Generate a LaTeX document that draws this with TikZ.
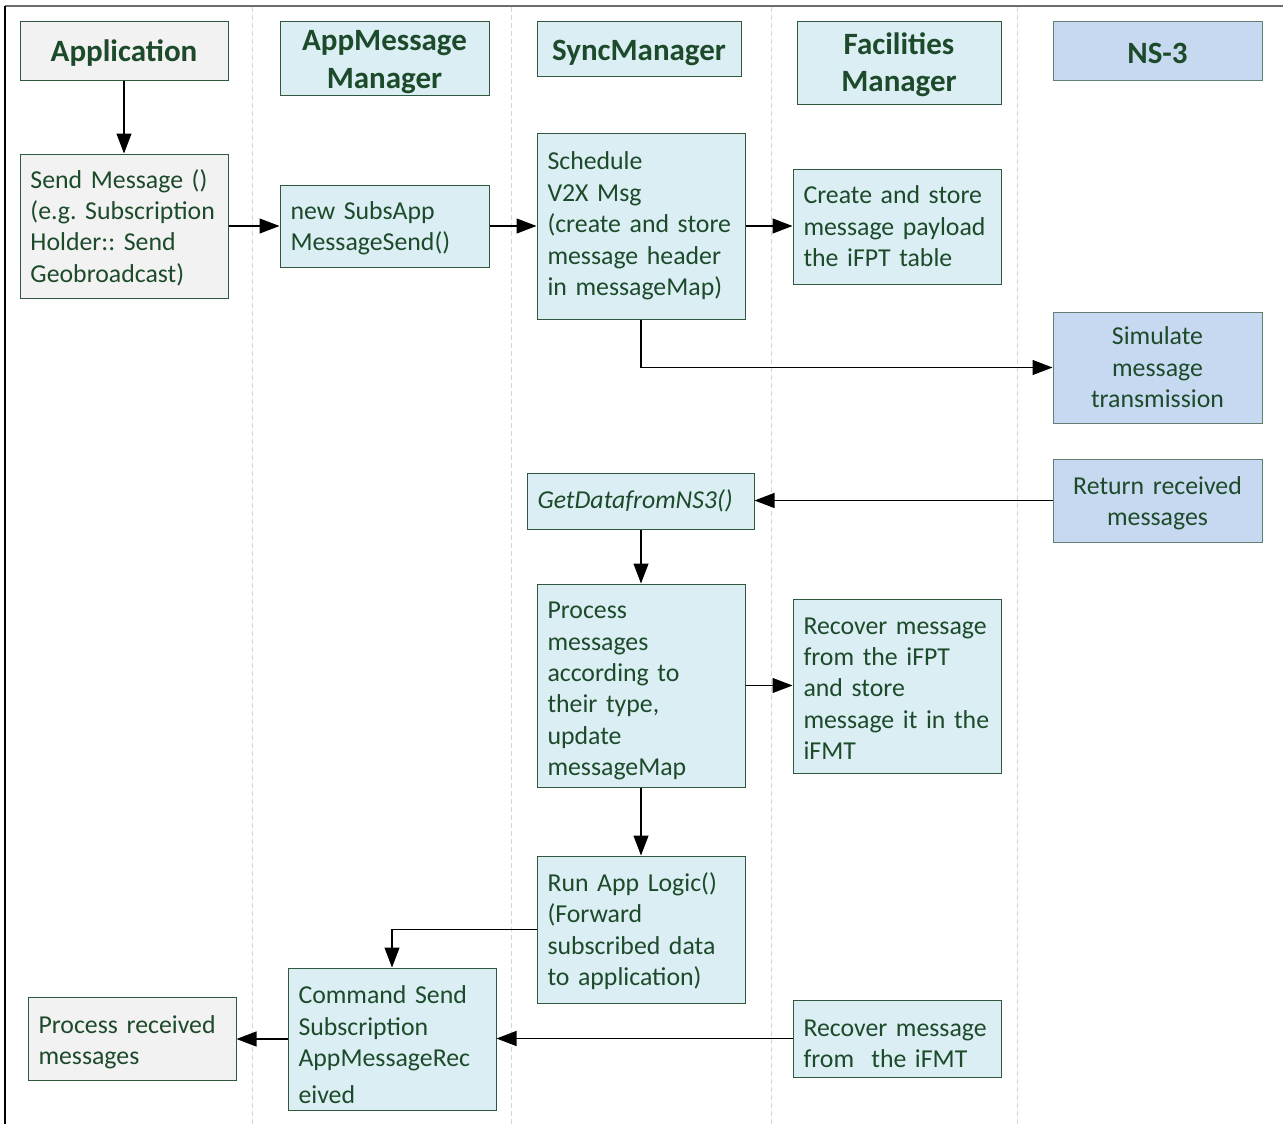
\documentclass[tikz,border=0pt]{standalone}
\usepackage{fontspec}
\setmainfont{Carlito}
\usetikzlibrary{arrows.meta}
\frenchspacing

\definecolor{txtgreen}{RGB}{28,74,42}
\definecolor{edgegreen}{RGB}{48,88,62}
\definecolor{edgegray}{RGB}{96,128,118}
\definecolor{appfill}{RGB}{242,242,242}
\definecolor{mgrfill}{RGB}{218,238,243}
\definecolor{nsfill}{RGB}{198,217,240}
\definecolor{lanegray}{RGB}{212,212,212}

\tikzset{
  basebox/.style={draw=edgegreen, line width=1pt, text=txtgreen, inner xsep=10.5pt, inner ysep=0pt,
    font=\fontsize{25.8}{31.4}\selectfont},
  headbox/.style={basebox, align=center, font=\fontsize{31}{37.5}\selectfont\bfseries},
  appstep/.style={basebox, fill=appfill, align=left},
  mgrstep/.style={basebox, fill=mgrfill, align=left},
  nsstep/.style={basebox, fill=nsfill, draw=edgegray, align=center},
  arr/.style={draw=black, line width=1.1pt, -{Triangle[length=20pt,width=15pt]}},
  lane/.style={draw=lanegray, line width=0.9pt, dash pattern=on 5pt off 3pt},
  % box geometry: width, height
  sz/.style 2 args={minimum width=#1pt, minimum height=#2pt, text width=#1pt-21pt},
  % push the text block down inside its box (taller strut on the first line)
  lower/.style={execute at begin node={\rule{0pt}{\dimexpr\fontcharht\font`d+#1pt*2\relax}}},
}

\begin{document}
\begin{tikzpicture}[x=1pt, y=-1pt]
\useasboundingbox (0,0) rectangle (1283,1124);

% swimlane separators
\foreach \lx in {252,511,771,1017}
  \draw[lane] (\lx,7) -- (\lx,1124);

% outer frame: top rule and left rule
\draw[draw=gray!85!black, line width=2pt] (5,6) -- (1283,6);
\draw[draw=black, line width=1.4pt] (5,6) -- (5,1124);

% lane headers
\node[headbox, fill=appfill, sz={208}{59}, lower=2] (hApp) at (124,51.5) {Application};
\node[headbox, fill=mgrfill, sz={209}{74}, lower=2.5] (hAMM) at (384.5,59) {AppMessage\\Manager};
\node[headbox, fill=mgrfill, sz={204}{55}, lower=3] (hSync) at (639,49.5) {SyncManager};
\node[headbox, fill=mgrfill, sz={204}{82}, lower=2] (hFac) at (899,63) {Facilities\\Manager};
\node[headbox, fill=nsfill, draw=edgegray, sz={209}{59}, lower=1] (hNS) at (1157.5,51.5) {NS-3};

% process steps
\node[appstep, sz={208}{144}, lower=2] (send) at (124,226)
  {Send Message ()\\(e.g. Subscription\\Holder:: Send\\Geobroadcast)};
\node[mgrstep, sz={209}{82}, lower=2] (subs) at (384.5,226)
  {new SubsApp\\MessageSend()};
\node[mgrstep, sz={208}{186}] (sched) at (641,226)
  {Schedule\\V2X Msg\\(create and store\\message header\\in messageMap)};
\node[mgrstep, sz={208}{115}] (create) at (897,226.5)
  {Create and store\\message payload\\the iFPT table};
\node[nsstep, sz={209}{111}] (sim) at (1157.5,367.5)
  {Simulate\\message\\transmission};
\node[mgrstep, sz={227}{56}] (getdata) at (640.5,501)
  {\itshape GetDatafromNS3()};
\node[nsstep, sz={209}{83}, lower=2.5] (ret) at (1157.5,500.5)
  {Return received\\messages};
\node[mgrstep, sz={208}{203}, lower=5] (proc) at (641,685.5)
  {Process\\messages\\according to\\their type,\\update\\messageMap};
\node[mgrstep, sz={208}{174}, lower=2] (recFPT) at (897,686)
  {Recover message\\from the iFPT\\and store\\message it in the\\iFMT};
\node[mgrstep, sz={208}{147}, lower=2] (run) at (641,929.5)
  {Run App Logic()\\(Forward\\subscribed data\\to application)};
\node[mgrstep, sz={208}{142}, lower=6] (cmd) at (392,1039)
  {Command Send\\Subscription\\AppMessageRec\\[6pt]eived};
\node[appstep, sz={208}{83}, lower=3.5] (procrecv) at (132,1038.5)
  {Process received\\messages};
\node[mgrstep, sz={208}{77}, lower=4.5] (recFMT) at (897,1038.5)
  {Recover message\\from\ \ the iFMT};

% connectors
\draw[arr] (hApp) -- (send);
\draw[arr] (send.east) -- (subs.west);
\draw[arr] (subs.east) -- (sched.west);
\draw[arr] (sched.east) -- (sched.east -| create.west);
\draw[arr] (sched.south) |- (sim.west);
\draw[arr] (ret.west) -- (ret.west -| getdata.east);
\draw[arr] (getdata.south -| proc.north) -- (proc.north);
\draw[arr] (proc.east) -- (proc.east -| recFPT.west);
\draw[arr] (proc.south) -- (run.north);
\draw[arr] (run.west) -| (cmd.north);
\draw[arr] (recFMT.west) -- (recFMT.west -| cmd.east);
\draw[arr] (cmd.west) -- (cmd.west -| procrecv.east);
\end{tikzpicture}
\end{document}
